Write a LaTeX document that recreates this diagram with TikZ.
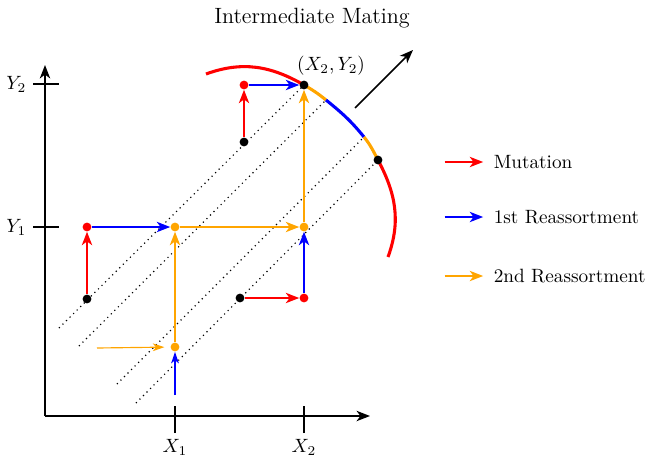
\documentclass[tikz,border=0pt]{standalone}
\usepackage{amsmath,amssymb}
\usepackage{xcolor}
\usepackage{tikz}
\usetikzlibrary{arrows.meta,positioning}
\definecolor{ora}{RGB}{255,165,0}

\begin{document}
\begin{tikzpicture}[x=0.52pt,y=0.52pt,yscale=-1,>={Stealth[length=7pt,width=5.4pt,inset=2pt]},
  pt/.style={circle,fill=black,inner sep=0pt,minimum size=4.6pt},
  rpt/.style={pt,fill=red},
  opt/.style={pt,fill=ora},
  mut/.style={->,red,line width=0.8pt},
  ra/.style={->,blue,line width=0.8pt},
  rb/.style={->,ora,line width=0.8pt},
  sm/.style={line width=0.6pt,>={Stealth[length=6pt,width=4pt,inset=1.6pt]}},
  crv/.style={line width=1.6pt},
  diag/.style={dotted,line width=0.6pt},
  ax/.style={line width=0.8pt},
  lbl/.style={anchor=west}]
\useasboundingbox (0,0) rectangle (649,464);
\coordinate (O) at (45,416);
\coordinate (ytop) at (45,65);
\coordinate (xend) at (370,416);
\coordinate (T) at (304,85);
\coordinate (S) at (378,160);
\coordinate (P0) at (206,74);
\coordinate (P2) at (326,100);
\coordinate (P3) at (364,137);
\coordinate (P5) at (388,257);
\coordinate (d1) at (59,328);
\coordinate (d2) at (79,346);
\coordinate (d3) at (117,384);
\coordinate (d4) at (136,403);
\draw[ax,->] (O) -- (ytop);
\draw[ax,->] (O) -- (xend);
\node[anchor=east] (Y2) at (33,84) {$Y_2$};
\node[anchor=east] (Y1) at (33,227) {$Y_1$};
\draw[ax] (Y2.east) -- +(26,0);
\draw[ax] (Y1.east) -- +(26,0);
\node[anchor=north] (X1) at (175,433) {$X_1$};
\node[anchor=north] (X2) at (304,433) {$X_2$};
\draw[ax] (X1.north) -- +(0,-27);
\draw[ax] (X2.north) -- +(0,-27);
\draw[diag] (d1) -- (T);
\draw[diag] (d2) -- (P2);
\draw[diag] (d3) -- (P3);
\draw[diag] (d4) -- (S);
\draw[crv,red] (P0) to[out=-20,in=210] (T);
\draw[crv,ora] (T) to[out=30,in=219] (P2);
\draw[crv,blue] (P2) to[out=39,in=231] (P3);
\draw[crv,ora] (P3) to[out=51,in=242] (S);
\draw[crv,red] (S) to[out=62,in=290] (P5);
\node[pt] (a0) at (87,299) {};
\node[rpt] (a1) at (87,227) {};
\node[opt] (b1) at (175,227) {};
\node[opt] (b0) at (175,347) {};
\node[opt] (c1) at (304,227) {};
\node[rpt] (c0) at (304,298) {};
\node[pt] (d0) at (240,298) {};
\node[pt] (e0) at (244,142) {};
\node[rpt] (e1) at (244,85) {};
\node[pt] (t) at (T) {};
\node[pt] (s) at (S) {};
\coordinate (in1) at (97,348);
\coordinate (in2) at (175,395);
\coordinate (go) at (355,108);
\coordinate (goend) at (413,50);
\draw[mut] (a0) -- (a1);
\draw[ra] (a1) -- (b1);
\draw[rb] (b0) -- (b1);
\draw[rb,sm,shorten >=3pt] (in1) -- (b0);
\draw[ra,sm] (in2) -- (b0);
\draw[rb] (b1) -- (c1);
\draw[mut] (d0) -- (c0);
\draw[ra] (c0) -- (c1);
\draw[rb] (c1) -- (t);
\draw[mut] (e0) -- (e1);
\draw[ra] (e1) -- (t);
\draw[->,line width=0.8pt] (go) -- (goend);
\node (tl) at (331,66) {$(X_2,Y_2)$};
\node[font=\fontsize{11.5}{14}\selectfont] (ttl) at (312,18) {Intermediate Mating};
\node[lbl] (lm) at (487,162) {Mutation};
\node[lbl] (l1) at (487,217) {1st Reassortment};
\node[lbl] (l2) at (487,276) {2nd Reassortment};
\draw[mut] ([xshift=-22pt]lm.west) -- ([xshift=-2pt]lm.west);
\draw[ra] ([xshift=-22pt]l1.west) -- ([xshift=-2pt]l1.west);
\draw[rb] ([xshift=-22pt]l2.west) -- ([xshift=-2pt]l2.west);
\end{tikzpicture}
\end{document}
